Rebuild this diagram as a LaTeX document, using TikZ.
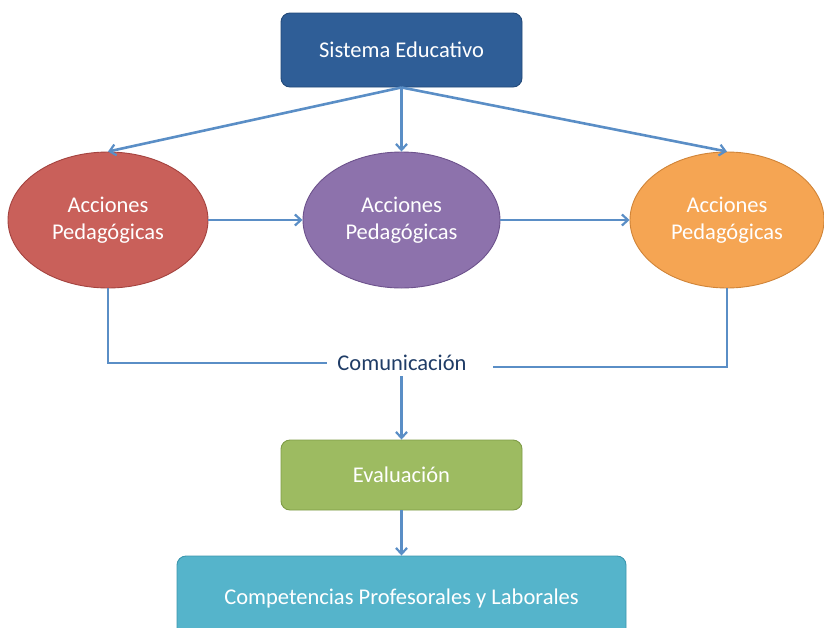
\documentclass[tikz,border=0pt]{standalone}
\usepackage{fontspec}
\setmainfont{Carlito}
\usetikzlibrary{shapes.geometric,arrows.meta}
\definecolor{cblue}{HTML}{2F5E97}
\definecolor{cblueb}{HTML}{234A7A}
\definecolor{cred}{HTML}{C9605A}
\definecolor{credb}{HTML}{A4433F}
\definecolor{cpurp}{HTML}{8D72AC}
\definecolor{cpurpb}{HTML}{6D528C}
\definecolor{corg}{HTML}{F5A553}
\definecolor{corgb}{HTML}{D08438}
\definecolor{cgreen}{HTML}{9DBB61}
\definecolor{cgreenb}{HTML}{7F9C47}
\definecolor{cteal}{HTML}{55B4CB}
\definecolor{ctealb}{HTML}{3C97AE}
\definecolor{cline}{HTML}{5A8EC6}
\definecolor{ctext}{HTML}{1F3C66}
\tikzset{
  x=1pt,y=-1pt,
  box/.style={draw=#1b, line width=0.9pt, fill=#1, rounded corners=9pt, text=white, font=\fontsize{22.5}{26}\selectfont, inner sep=0pt},
  ell/.style={ellipse, draw=#1b, line width=0.9pt, fill=#1, text=white, font=\fontsize{22.5}{27}\selectfont, align=center, inner sep=0pt, minimum width=200pt, minimum height=136pt},
  conn/.style={draw=cline, line width=2.6pt},
  arr/.style={conn, -{Straight Barb[length=6pt,width=11pt,line width=2.2pt]}},
}
\begin{document}
\begin{tikzpicture}
\useasboundingbox (0,0) rectangle (824,627);
\clip (0,0) rectangle (824,627);
\node[box=cblue, minimum width=241pt, minimum height=74pt] (se) at (401.5,50) {Sistema Educativo};
\node[ell=cred] (a1) at (108,220) {Acciones\\Pedagógicas};
\node[ell=cpurp, minimum width=197pt] (a2) at (401.5,220) {Acciones\\Pedagógicas};
\node[ell=corg, minimum width=194pt] (a3) at (727,220) {Acciones\\Pedagógicas};
\node[text=ctext, font=\fontsize{22.5}{26}\selectfont, inner sep=0pt] (com) at (402,363) {Comunicación};
\node[box=cgreen, minimum width=241pt, minimum height=70pt] (ev) at (401.5,475) {Evaluación};
\node[box=cteal, minimum width=449pt, minimum height=84pt] (cp) at (401.5,598) {Competencias Profesorales y Laborales};
\coordinate (l1) at (108,363);
\coordinate (l2) at (327,363);
\coordinate (r1) at (727,367);
\coordinate (r2) at (493,367);
\coordinate (c0) at (401.5,376);
\draw[arr] (se.south) -- (a1.north);
\draw[arr] (se.south) -- (a2.north);
\draw[arr] (se.south) -- (a3.north);
\draw[arr] (a1.east) -- (a2.west);
\draw[arr] (a2.east) -- (a3.west);
\draw[conn] (a1.south) -- (l1) -- (l2);
\draw[conn] (a3.south) -- (r1) -- (r2);
\draw[arr] (c0) -- (ev.north);
\draw[arr] (ev.south) -- (cp.north);
\end{tikzpicture}
\end{document}
